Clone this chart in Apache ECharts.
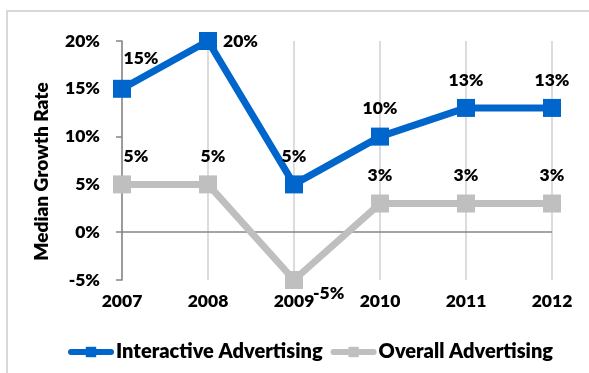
<!DOCTYPE html>
<html>
<head>
<meta charset="utf-8">
<script src="https://cdn.jsdelivr.net/npm/echarts@6/dist/echarts.min.js"></script>
<style>
  html, body { margin: 0; padding: 0; background: #fff; }
  #chart { width: 589px; height: 373px; }
</style>
</head>
<body>
<div id="chart"></div>
<script>
// Median growth rate by year
const years = ['2007', '2008', '2009', '2010', '2011', '2012'];
const interactive = [15, 20, 5, 10, 13, 13];
const overall = [5, 5, -5, 3, 3, 3];
const yTicks = { min: -5, max: 20, step: 5 };

const FONT = 'Lato';
const WEIGHT = 800;
const BLUE = '#0066CC';
const GREY = '#BFBFBF';

// per-point label placement tweaks (index -> label options)
const interactiveLabelTweaks = {
  0: { offset: [19, -2] },
  1: { position: 'right', distance: 6, offset: [0, 0] }
};
const overallLabelTweaks = {
  0: { offset: [14, 0] },
  1: { offset: [5, 0] },
  2: { position: [28, 22], align: 'left', verticalAlign: 'middle', offset: [0, 0] }
};

function withLabels(values, tweaks) {
  return values.map((v, i) => tweaks[i] ? { value: v, label: tweaks[i] } : v);
}

const labelBase = {
  show: true,
  position: 'top',
  distance: 10,
  formatter: '{c}%',
  color: '#000',
  fontFamily: FONT,
  fontWeight: WEIGHT,
  fontSize: 17.5
};

const chart = echarts.init(document.getElementById('chart'), null, { renderer: 'canvas' });
chart.setOption({
  animation: false,
  backgroundColor: '#fff',
  graphic: [{
    type: 'rect',
    shape: { x: 7, y: 11, width: 800, height: 600 },
    style: { fill: 'none', stroke: '#D9D9D9', lineWidth: 2 },
    silent: true,
    z: -1
  }],
  grid: { left: 122, right: 37, top: 41, bottom: 93 },
  legend: {
    left: 68,
    top: 342,
    padding: 0,
    itemWidth: 40,
    itemHeight: 13,
    itemGap: 8,
    lineStyle: { width: 6, cap: 'round' },
    textStyle: { fontFamily: FONT, fontWeight: WEIGHT, fontSize: 20, color: '#000' },
    data: ['Interactive Advertising', 'Overall Advertising']
  },
  xAxis: {
    type: 'category',
    data: years,
    boundaryGap: false,
    axisLine: { show: false },
    axisTick: { show: false },
    axisLabel: { color: '#000', fontFamily: FONT, fontWeight: WEIGHT, fontSize: 17.5, margin: 12 },
    splitLine: { show: true, lineStyle: { color: '#D0D0D0', width: 1.5 } }
  },
  yAxis: {
    type: 'value',
    min: yTicks.min,
    max: yTicks.max,
    interval: yTicks.step,
    name: 'Median Growth Rate',
    nameLocation: 'middle',
    nameRotate: 90,
    nameGap: 71,
    nameTextStyle: { color: '#000', fontFamily: FONT, fontWeight: WEIGHT, fontSize: 19, padding: [0, 22, 0, 0] },
    axisLine: { show: true, lineStyle: { color: '#868686', width: 1.5 } },
    axisTick: { show: true, length: 6, lineStyle: { color: '#868686', width: 1.5 } },
    axisLabel: { color: '#000', fontFamily: FONT, fontWeight: WEIGHT, fontSize: 17.5, margin: 22, formatter: '{value}%' },
    splitLine: { show: false }
  },
  series: [
    {
      name: 'Interactive Advertising',
      type: 'line',
      data: withLabels(interactive, interactiveLabelTweaks),
      symbol: 'rect',
      symbolSize: 18,
      itemStyle: { color: BLUE },
      lineStyle: { color: BLUE, width: 7 },
      label: labelBase,
      z: 3
    },
    {
      name: 'Overall Advertising',
      type: 'line',
      data: withLabels(overall, overallLabelTweaks),
      symbol: 'rect',
      symbolSize: 18,
      itemStyle: { color: GREY },
      lineStyle: { color: GREY, width: 7 },
      label: labelBase,
      z: 2,
      markLine: {
        silent: true,
        symbol: 'none',
        label: { show: false },
        lineStyle: { color: '#868686', width: 1.5, type: 'solid' },
        data: [{ yAxis: 0 }],
        z: 1
      }
    }
  ]
});
</script>
</body>
</html>
